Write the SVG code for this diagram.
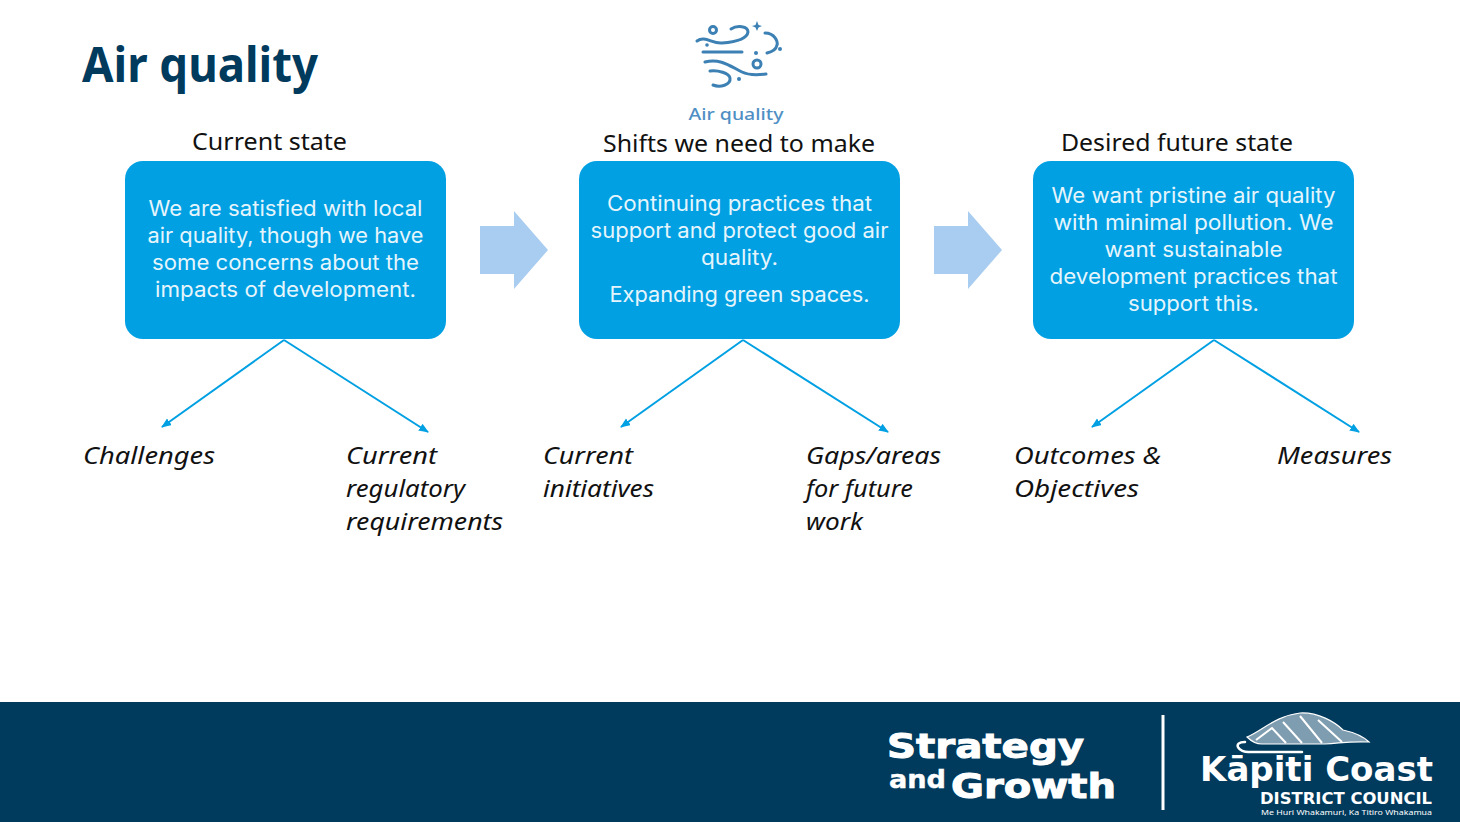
<svg xmlns="http://www.w3.org/2000/svg" width="1460" height="822" viewBox="0 0 1460 822">
<style>
text{font-family:"Noto Sans","Open Sans","Liberation Sans",sans-serif}
.box{fill:#00a0e3}
.bt{fill:#e6f5fc;font-size:21px;text-anchor:middle;font-family:"Inter","Noto Sans",sans-serif}
.hd{fill:#111;font-size:24px}
.it{fill:#111;font-size:24px;font-style:italic}
.ar{fill:#a9cdf0}
.cn{stroke:#00a0e3;stroke-width:2;fill:none;marker-end:url(#a)}
.ic{stroke:#3c80b4;stroke-width:3;fill:none;stroke-linecap:round}
.icd{fill:#3c80b4}
.wh{fill:#fff}
.sg{font-family:"DejaVu Sans",sans-serif;font-weight:700;stroke:#fff;stroke-width:1}
.kc{font-family:"DejaVu Sans Condensed","Roboto",sans-serif;font-weight:700}
</style>
<defs><marker id="a" markerUnits="userSpaceOnUse" markerWidth="11" markerHeight="10" refX="9" refY="4" orient="auto"><path d="M0 0L10 4L0 8Z" fill="#00a0e3"/></marker></defs>
<rect width="1460" height="822" fill="#fff"/>
<text x="82" y="82" font-size="48" font-weight="700" fill="#003a5d" textLength="236" lengthAdjust="spacingAndGlyphs">Air quality</text>

<g id="icon">
<path class="ic" d="M697 41C705 35 712 44 722 43C735 42 747 39 748 32C748 26 737 25 731 29"/>
<path class="ic" d="M703 52H742"/>
<path class="ic" d="M705 62C720 58 730 66 742 72C748 75 758 75 766 74"/>
<path class="ic" d="M710 71C718 70 729 73 730 78C731 85 720 88 713 85"/>
<path class="ic" d="M765 33C775 33 778 42 777 45C776 50 772 52 767 53"/>
<circle class="ic" cx="713" cy="30" r="3.500"/>
<circle class="ic" cx="757" cy="64" r="4"/>
<circle class="icd" cx="707" cy="45" r="1.800"/><circle class="icd" cx="780" cy="49" r="2"/><circle class="icd" cx="756" cy="53" r="2"/><circle class="icd" cx="739" cy="79" r="2"/>
<path class="icd" d="M757 21L758.500 25L762 26L758.500 27.500L757 31L755.500 27.500L752 26L755.500 25Z"/>
<text x="736" y="120" font-size="17" font-weight="500" text-anchor="middle" fill="#4f8fc4" textLength="95" lengthAdjust="spacingAndGlyphs">Air quality</text>
</g>

<g id="current-state">
<text class="hd" x="192" y="150" textLength="155" lengthAdjust="spacingAndGlyphs">Current state</text>
<rect class="box" x="125" y="161" width="321" height="178" rx="18"/>
<text class="bt" x="285.500" y="216" textLength="274" lengthAdjust="spacingAndGlyphs">We are satisfied with local</text>
<text class="bt" x="285.500" y="243" textLength="276" lengthAdjust="spacingAndGlyphs">air quality, though we have</text>
<text class="bt" x="285.500" y="270" textLength="267" lengthAdjust="spacingAndGlyphs">some concerns about the</text>
<text class="bt" x="285.500" y="297" textLength="261" lengthAdjust="spacingAndGlyphs">impacts of development.</text>
</g>
<g id="shifts">
<text class="hd" x="603" y="152" textLength="272" lengthAdjust="spacingAndGlyphs">Shifts we need to make</text>
<rect class="box" x="579" y="161" width="321" height="178" rx="18"/>
<text class="bt" x="739.500" y="211" textLength="265" lengthAdjust="spacingAndGlyphs">Continuing practices that</text>
<text class="bt" x="739.500" y="238" textLength="298" lengthAdjust="spacingAndGlyphs">support and protect good air</text>
<text class="bt" x="739.500" y="265" textLength="77" lengthAdjust="spacingAndGlyphs">quality.</text>
<text class="bt" x="739.500" y="302" textLength="260" lengthAdjust="spacingAndGlyphs">Expanding green spaces.</text>
</g>
<g id="future-state">
<text class="hd" x="1061" y="151" textLength="232" lengthAdjust="spacingAndGlyphs">Desired future state</text>
<rect class="box" x="1033" y="161" width="321" height="178" rx="18"/>
<text class="bt" x="1193.500" y="203" textLength="284" lengthAdjust="spacingAndGlyphs">We want pristine air quality</text>
<text class="bt" x="1193.500" y="230" textLength="280" lengthAdjust="spacingAndGlyphs">with minimal pollution. We</text>
<text class="bt" x="1193.500" y="257" textLength="178" lengthAdjust="spacingAndGlyphs">want sustainable</text>
<text class="bt" x="1193.500" y="284" textLength="288" lengthAdjust="spacingAndGlyphs">development practices that</text>
<text class="bt" x="1193.500" y="311" textLength="131" lengthAdjust="spacingAndGlyphs">support this.</text>
</g>
<g id="block-arrows">
<path class="ar" d="M480 226H514V211L548 250L514 289V274H480Z"/>
<path class="ar" d="M934 226H968V211L1002 250L968 289V274H934Z"/>
</g>
<g id="connectors">
<path class="cn" d="M284 340L162 427"/>
<path class="cn" d="M284 340L428 432"/>
<path class="cn" d="M743 340L621 427"/>
<path class="cn" d="M743 340L888 432"/>
<path class="cn" d="M1214 340L1092 427"/>
<path class="cn" d="M1214 340L1359 432"/>
</g>
<g id="challenges"><text class="it" x="83" y="464" textLength="132" lengthAdjust="spacingAndGlyphs">Challenges</text></g>
<g id="regulatory"><text class="it" x="346" y="464" textLength="91" lengthAdjust="spacingAndGlyphs">Current</text><text class="it" x="346" y="497" textLength="119" lengthAdjust="spacingAndGlyphs">regulatory</text><text class="it" x="346" y="530" textLength="157" lengthAdjust="spacingAndGlyphs">requirements</text></g>
<g id="initiatives"><text class="it" x="543" y="464" textLength="90" lengthAdjust="spacingAndGlyphs">Current</text><text class="it" x="543" y="497" textLength="111" lengthAdjust="spacingAndGlyphs">initiatives</text></g>
<g id="gaps"><text class="it" x="806" y="464" textLength="135" lengthAdjust="spacingAndGlyphs">Gaps/areas</text><text class="it" x="806" y="497" textLength="107" lengthAdjust="spacingAndGlyphs">for future</text><text class="it" x="806" y="530" textLength="57" lengthAdjust="spacingAndGlyphs">work</text></g>
<g id="outcomes"><text class="it" x="1014" y="464" textLength="147" lengthAdjust="spacingAndGlyphs">Outcomes &amp;</text><text class="it" x="1014" y="497" textLength="125" lengthAdjust="spacingAndGlyphs">Objectives</text></g>
<g id="measures"><text class="it" x="1277" y="464" textLength="115" lengthAdjust="spacingAndGlyphs">Measures</text></g>

<g id="footer">
<rect y="702" width="1460" height="120" fill="#003a5d"/>
<text class="wh sg" x="887" y="758" font-size="34" textLength="197" lengthAdjust="spacingAndGlyphs">Strategy</text>
<text class="wh sg" x="889" y="788" font-size="24" textLength="57" lengthAdjust="spacingAndGlyphs" style="stroke-width:.4">and</text>
<text class="wh sg" x="951" y="798" font-size="34" textLength="165" lengthAdjust="spacingAndGlyphs">Growth</text>
<rect class="wh" x="1161.500" y="715" width="3" height="95"/>
<path d="M1247 737C1262 731 1275 716 1300 713C1318 712 1335 722 1343 730C1352 732 1362 735 1369 742C1350 741 1342 743 1325 744H1262C1256 744 1251 741 1247 737Z" fill="#7f9db1" stroke="#fff" stroke-width="1.200"/>
<path d="M1256 740L1272 728L1286 743M1283 722L1302 743M1300 716L1322 743M1318 720L1342 742" fill="none" stroke="#fff" stroke-width="2"/>
<path d="M1245 742C1232 742 1238 753 1250 752H1302" fill="none" stroke="#fff" stroke-width="2.500" stroke-linecap="round"/>
<text class="wh kc" x="1200" y="781" font-size="33" textLength="233" lengthAdjust="spacingAndGlyphs">Kāpiti Coast</text>
<text class="wh kc" x="1260" y="804" font-size="16" font-weight="400" textLength="172" lengthAdjust="spacingAndGlyphs">DISTRICT COUNCIL</text>
<text class="wh" x="1261" y="815" font-size="7" textLength="171" lengthAdjust="spacingAndGlyphs">Me Huri Whakamuri, Ka Titiro Whakamua</text>
</g>
</svg>
